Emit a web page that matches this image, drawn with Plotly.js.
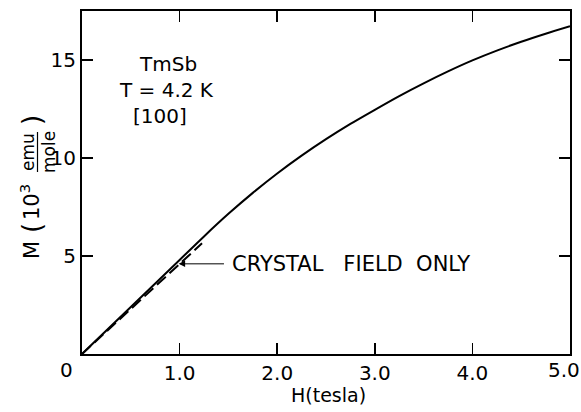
<!DOCTYPE html>
<html>
<head>
<meta charset="utf-8">
<script src="https://cdn.plot.ly/plotly-3.0.1.min.js"></script>
<style>html,body{margin:0;padding:0;background:#fff;}</style>
</head>
<body>
<div id="chart" style="width:581px;height:412px;"></div>
<script>
// Measured curve: magnetization of TmSb at 4.2 K along [100] (10^3 emu/mole vs tesla)
const fieldTesla = [0, 0.5, 1.0, 1.25, 1.5, 1.75, 2.0, 2.25, 2.5, 2.75, 3.0, 3.25, 3.5, 3.75, 4.0, 4.25, 4.5, 4.75, 5.0];
const magnetization = [0, 2.4, 4.8, 6.0, 7.15, 8.22, 9.21, 10.12, 10.96, 11.74, 12.46, 13.16, 13.81, 14.42, 14.98, 15.48, 15.93, 16.34, 16.72];
// Crystal-field-only calculation (dashed)
const cfField = [0, 1.23];
const cfMagnetization = [0, 5.65];
// Tick labels
const xTickVals = [1, 2, 3, 4, 5];
const xTickText = ["1.0", "2.0", "3.0", "4.0", ""];
const yTickVals = [5, 10, 15];
const yTickText = ["5", "10", "15"];

const FONT = "DejaVu Sans, Liberation Sans, sans-serif";
const W = 581, H = 412;
const L = 82, R = 570, T = 11, B = 354;
const px = sx => (sx - L) / (R - L);
const py = sy => (B - sy) / (B - T);
const NB = "\u00a0";

const traces = [
  {x: fieldTesla, y: magnetization, mode: "lines", line: {color: "#000", width: 2, shape: "spline", smoothing: 0.8}, hoverinfo: "skip"},
  {x: cfField, y: cfMagnetization, mode: "lines", line: {color: "#000", width: 2, dash: "12px,5px"}, hoverinfo: "skip"}
];

function pt(text, sx, sy, size, angle) {
  return {text: text, xref: "paper", yref: "paper", x: px(sx), y: py(sy), showarrow: false,
          textangle: angle || 0, font: {family: FONT, size: size || 20, color: "#000"},
          xanchor: "center", yanchor: "middle"};
}

const annotations = [
  {text: "TmSb", x: 0.88, y: 14.8, xref: "x", yref: "y", xanchor: "center", yanchor: "middle", showarrow: false, font: {family: FONT, size: 20, color: "#000"}},
  {text: "T = 4.2 K", x: 0.87, y: 13.45, xref: "x", yref: "y", xanchor: "center", yanchor: "middle", showarrow: false, font: {family: FONT, size: 20, color: "#000"}},
  {text: "[100]", x: 0.8, y: 12.15, xref: "x", yref: "y", xanchor: "center", yanchor: "middle", showarrow: false, font: {family: FONT, size: 20, color: "#000"}},
  {text: "CRYSTAL" + NB + NB + NB + "FIELD" + NB + NB + "ONLY", x: 1.52, y: 4.6, xref: "x", yref: "y", xanchor: "left", yanchor: "middle", showarrow: false, font: {family: FONT, size: 21, color: "#000"}},
  {text: "", x: 0.99, y: 4.6, xref: "x", yref: "y", ax: 1.47, ay: 4.6, axref: "x", ayref: "y", showarrow: true,
   arrowhead: 2, arrowsize: 1.3, arrowwidth: 1, arrowcolor: "#000"},
  pt("0", 66, 370, 20),
  pt("5.0", 564, 370, 20),
  pt("H(tesla)", 328, 395, 19),
  pt("M", 32, 250, 21, -90),
  pt("(", 32, 228, 26, -90),
  pt("10<sup>3</sup>", 30, 202, 21, -90),
  pt("emu", 28, 152, 17, -90),
  pt("mole", 49, 152, 17, -90),
  pt(")", 32, 120, 26, -90)
];

const layout = {
  width: W, height: H,
  margin: {l: L, r: W - R, t: T, b: H - B, pad: 0},
  paper_bgcolor: "#fff", plot_bgcolor: "#fff",
  showlegend: false,
  font: {family: FONT, color: "#000"},
  xaxis: {range: [0, 5], tickvals: xTickVals, ticktext: xTickText, ticks: "inside", ticklen: 11, tickwidth: 1.5,
          tickcolor: "#000", showline: true, linecolor: "#000", linewidth: 2, mirror: "ticks", showgrid: false,
          zeroline: false, tickfont: {family: FONT, size: 20, color: "#000"}, fixedrange: true},
  yaxis: {range: [0, 17.5], tickvals: yTickVals, ticktext: yTickText, ticks: "inside", ticklen: 11, tickwidth: 1.5,
          tickcolor: "#000", showline: true, linecolor: "#000", linewidth: 2, mirror: "ticks", showgrid: false,
          zeroline: false, tickfont: {family: FONT, size: 20, color: "#000"}, fixedrange: true},
  shapes: [
    {type: "line", xref: "paper", yref: "paper", x0: px(37.5), x1: px(37.5), y0: py(132), y1: py(172), line: {color: "#000", width: 1.2}}
  ],
  annotations: annotations
};

Plotly.newPlot("chart", traces, layout, {displayModeBar: false, staticPlot: true});
</script>
</body>
</html>
